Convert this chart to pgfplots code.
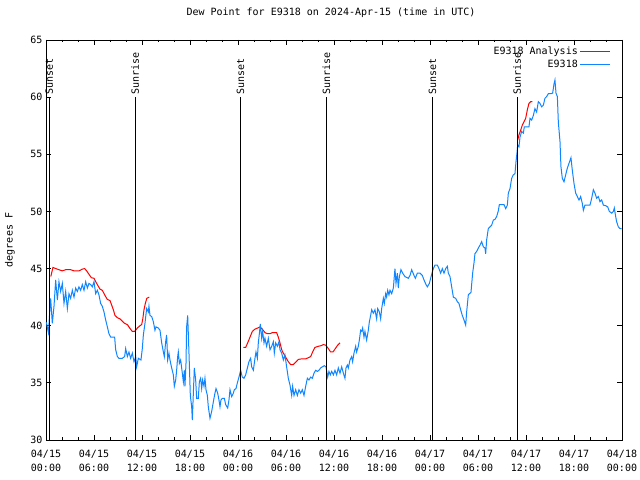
\documentclass[border=0pt]{standalone}
\usepackage{fontspec}
\setmainfont{DejaVu Sans Mono}
\usepackage{pgfplots}
\pgfplotsset{compat=1.18}
\definecolor{obsblue}{RGB}{16,133,255}
\definecolor{anared}{RGB}{255,0,0}
\newcommand{\gfont}{\fontsize{10bp}{14bp}\selectfont}

\begin{document}
\begin{tikzpicture}
\useasboundingbox (-46bp,-40bp) rectangle (594bp,440bp);
\begin{axis}[
  at={(0,0)}, anchor=south west,
  scale only axis, width=576bp, height=400bp,
  xmin=0, xmax=72, ymin=30, ymax=65,
  xtick={0,6,...,72}, minor xtick={0,2,...,72},
  ytick={30,35,...,65},
  xticklabels={04/15\\00:00,04/15\\06:00,04/15\\12:00,04/15\\18:00,
    04/16\\00:00,04/16\\06:00,04/16\\12:00,04/16\\18:00,
    04/17\\00:00,04/17\\06:00,04/17\\12:00,04/17\\18:00,04/18\\00:00},
  x tick label style={align=center, font=\gfont, yshift=-7bp},
  y tick label style={font=\gfont},
  /pgf/number format/assume math mode=true,
  tick align=inside,
  major tick length=5bp, minor tick length=2.5bp,
  tick style={black, line width=0.8bp},
  axis line style={black, line width=0.8bp},
  title={Dew Point for E9318 on 2024-Apr-15 (time in UTC)},
  title style={font=\gfont, at={(0.5,1)}, anchor=center, yshift=21bp, xshift=-3bp},
  ylabel={degrees F},
  ylabel style={font=\gfont, at={(axis description cs:-0.0625,0.5)}, anchor=center},
  legend style={draw=none, fill=none, at={(1,1)}, anchor=north east,
    xshift=-8bp, yshift=-3bp, font=\gfont, row sep=0bp,
    nodes={inner sep=2bp, text height=7bp, text depth=2bp}},
  legend cell align=right,
  legend plot pos=right,
  legend image code/.code={\draw[#1] (0bp,0bp) -- (30bp,0bp);},
]
% analysis, three stretches
\addplot[anared, line width=1bp] coordinates {
(0.6,44.3)(0.87,45.1)(1.21,45.0)(1.62,44.9)(2.04,44.8)(2.46,44.9)(3.08,44.9)
(3.5,44.8)(4.12,44.8)(4.54,44.95)(4.83,45.0)(5.08,44.8)(5.37,44.5)(5.67,44.2)
(6.0,44.15)(6.21,43.85)(6.5,43.5)(6.75,43.2)(7.04,43.1)(7.33,42.7)(7.67,42.3)
(8.0,42.2)(8.21,41.8)(8.42,41.4)(8.62,40.9)(8.92,40.7)(9.25,40.6)(9.54,40.4)
(9.83,40.2)(10.17,40.1)(10.46,39.8)(10.79,39.5)(11.08,39.5)(11.42,39.8)
(11.75,40.0)(11.96,40.1)(12.1,40.6)(12.25,41.4)(12.4,41.9)(12.6,42.4)(12.9,42.5)
};
\addlegendentry{E9318 Analysis}
\addplot[anared, line width=1bp, forget plot] coordinates {
(24.67,38.1)(24.96,38.1)(25.21,38.5)(25.5,39.0)(25.79,39.5)(26.12,39.7)
(26.46,39.8)(26.75,39.9)(27.04,39.7)(27.37,39.4)(27.67,39.3)(28.0,39.3)
(28.29,39.4)(28.54,39.4)(28.83,39.4)(29.04,39.0)(29.25,38.5)(29.46,37.9)
(29.67,37.6)(30.0,37.2)(30.29,36.85)(30.58,36.6)(30.92,36.6)(31.21,36.8)
(31.54,37.05)(31.96,37.1)(32.46,37.1)(32.79,37.2)(33.08,37.3)(33.33,37.7)
(33.62,38.1)(34.04,38.2)(34.37,38.25)(34.67,38.35)(34.96,38.3)(35.29,38.0)
(35.58,37.7)(35.87,37.7)(36.12,37.95)(36.46,38.3)(36.75,38.5)
};
\addplot[anared, line width=1bp, forget plot] coordinates {
(58.96,56.25)(59.12,56.7)(59.33,57.1)(59.54,57.55)(59.75,57.85)(59.96,58.15)
(60.17,58.9)(60.37,59.45)(60.58,59.6)(60.79,59.6)
};
% observations
\addplot[obsblue, line width=1bp] coordinates {
(0.05,40.3)(0.3,39.4)(0.58,42.4)(0.79,40.2)(1.0,41.7)(1.21,44.0)(1.42,42.25)
(1.62,43.85)(1.83,43.0)(2.04,43.7)(2.25,41.95)(2.46,43.0)(2.67,41.5)(2.87,42.8)
(3.08,42.4)(3.29,43.1)(3.5,42.5)(3.71,43.3)(3.92,43.0)(4.12,43.4)(4.33,43.1)
(4.54,43.6)(4.75,43.1)(4.96,43.85)(5.17,43.3)(5.37,43.7)(5.58,43.6)(5.79,43.4)
(6.0,43.85)(6.21,42.8)(6.42,43.1)(6.62,42.7)(6.83,41.95)(7.04,41.7)(7.25,41.2)
(7.46,40.5)(7.67,39.9)(7.87,39.3)(8.08,39.0)(8.29,39.0)(8.58,39.0)(8.71,37.9)
(8.92,37.3)(9.12,37.15)(9.54,37.15)(9.83,37.3)(9.96,38.0)(10.17,37.3)(10.37,37.7)
(10.58,37.15)(10.79,37.6)(11.0,36.85)(11.21,37.3)(11.33,36.4)(11.54,37.15)
(11.87,37.0)(12.04,38.0)(12.17,39.2)(12.37,40.2)(12.58,41.5)(12.79,41.2)
(12.87,41.7)(13.0,40.9)(13.21,40.8)(13.42,40.35)(13.62,39.6)(13.75,39.9)
(14.04,39.8)(14.25,39.6)(14.46,38.5)(14.67,37.7)(14.79,37.3)(14.96,38.6)
(15.08,39.2)(15.21,37.0)(15.37,37.6)(15.5,37.0)(15.71,36.3)(15.92,35.7)
(16.04,34.7)(16.21,35.25)(16.33,36.1)(16.46,37.3)(16.54,37.7)(16.67,36.7)
(16.83,37.0)(16.96,36.3)(17.17,35.1)(17.29,36.1)(17.37,34.7)(17.5,36.7)
(17.58,39.9)(17.71,40.9)(17.79,39.3)(17.92,36.6)(18.04,33.9)(18.21,32.9)
(18.29,31.75)(18.42,34.1)(18.54,36.3)(18.71,35.25)(18.83,33.65)(19.04,33.65)
(19.17,35.1)(19.33,35.4)(19.46,34.5)(19.58,35.25)(19.75,34.7)(19.87,35.4)
(20.0,34.4)(20.17,33.9)(20.29,32.9)(20.5,31.9)(20.71,32.5)(20.92,33.35)
(21.12,34.1)(21.25,34.5)(21.46,34.1)(21.62,33.5)(21.75,32.9)(21.87,33.5)
(22.04,33.65)(22.29,33.65)(22.46,33.1)(22.71,32.8)(22.87,33.5)(23.0,34.4)
(23.21,33.8)(23.42,34.1)(23.54,34.4)(23.75,34.5)(23.92,35.0)(24.12,35.5)
(24.33,36.1)(24.54,35.5)(24.75,35.4)(24.96,35.7)(25.17,36.3)(25.37,36.85)
(25.58,37.15)(25.71,36.4)(25.92,36.1)(26.12,37.15)(26.25,37.7)(26.42,37.15)
(26.54,38.5)(26.67,39.3)(26.79,40.15)(26.96,38.9)(27.08,39.5)(27.25,38.5)
(27.37,38.9)(27.58,38.2)(27.79,38.9)(28.0,37.9)(28.21,38.2)(28.42,38.6)
(28.54,37.6)(28.71,38.5)(28.92,38.2)(29.12,38.6)(29.25,37.9)(29.46,37.6)
(29.67,37.0)(29.87,37.45)(30.08,36.4)(30.29,35.4)(30.5,34.8)(30.71,33.9)
(30.83,34.7)(31.0,33.9)(31.21,34.4)(31.42,33.9)(31.62,34.4)(31.83,34.1)
(32.04,34.4)(32.25,33.9)(32.46,34.7)(32.67,35.4)(32.87,35.25)(33.08,35.5)
(33.29,35.4)(33.5,35.85)(33.71,36.1)(33.92,36.0)(34.12,36.1)(34.33,36.3)
(34.54,36.4)(34.79,36.5)(35.0,36.4)(35.21,35.5)(35.37,36.0)(35.54,35.7)
(35.71,36.0)(35.92,35.7)(36.12,36.1)(36.33,35.7)(36.54,36.3)(36.75,35.85)
(36.96,36.4)(37.17,35.85)(37.37,35.4)(37.5,36.3)(37.67,36.56)(37.79,36.3)
(38.0,37.0)(38.21,37.3)(38.33,36.85)(38.5,37.6)(38.71,38.2)(38.83,37.7)
(39.04,38.2)(39.17,38.75)(39.33,39.6)(39.46,39.5)(39.58,39.8)(39.75,39.0)
(39.87,39.5)(40.08,38.75)(40.29,39.6)(40.42,40.35)(40.58,40.9)(40.71,41.4)
(40.92,41.1)(41.12,41.4)(41.33,40.6)(41.46,41.5)(41.67,41.2)(41.83,40.6)
(41.96,41.5)(42.17,42.4)(42.29,41.95)(42.46,42.8)(42.58,42.5)(42.71,43.1)
(42.87,42.7)(43.0,43.1)(43.21,42.8)(43.42,43.3)(43.62,45.0)(43.75,43.7)
(43.92,44.6)(44.04,43.3)(44.17,44.3)(44.37,44.9)(44.58,44.6)(44.87,44.3)
(45.29,44.15)(45.5,44.4)(45.71,44.9)(46.0,44.4)(46.17,44.15)(46.42,44.6)
(46.75,44.6)(47.04,44.4)(47.25,44.0)(47.5,43.6)(47.67,43.4)(47.92,43.7)
(48.08,44.15)(48.25,44.6)(48.42,45.0)(48.62,45.3)(48.92,45.3)(49.12,45.0)
(49.33,44.6)(49.54,45.0)(49.75,44.6)(49.96,45.0)(50.17,45.2)(50.29,44.6)
(50.5,44.3)(50.71,43.4)(50.92,42.5)(51.21,42.4)(51.42,42.1)(51.62,41.95)
(51.83,41.4)(52.04,40.9)(52.25,40.5)(52.46,40.05)(52.58,41.2)(52.79,42.7)
(52.92,42.8)(53.12,42.9)(53.33,44.6)(53.5,45.5)(53.62,46.3)(53.83,46.5)
(54.04,46.8)(54.25,47.05)(54.46,47.35)(54.67,46.9)(54.87,46.8)(54.96,46.3)
(55.08,47.5)(55.29,48.5)(55.5,48.65)(55.71,48.8)(55.92,49.25)(56.12,49.3)
(56.33,49.55)(56.54,50.05)(56.67,50.6)(56.96,50.6)(57.25,50.6)(57.46,50.25)
(57.67,50.55)(57.79,51.6)(58.0,52.0)(58.21,52.9)(58.42,53.2)(58.62,53.3)
(58.75,54.35)(58.87,55.1)(58.96,55.8)(59.12,55.65)(59.25,56.5)(59.46,57.0)
(59.67,56.85)(59.79,57.4)(60.08,57.4)(60.37,57.4)(60.5,58.15)(60.71,58.0)
(60.92,58.4)(61.12,59.0)(61.33,58.7)(61.54,59.6)(61.75,59.45)(61.96,59.15)
(62.17,59.3)(62.37,59.9)(62.58,60.05)(62.79,60.3)(63.12,60.3)(63.33,60.35)
(63.5,61.15)(63.62,61.5)(63.75,60.35)(63.92,60.05)(64.04,57.85)(64.25,56.1)
(64.37,53.9)(64.54,52.9)(64.75,52.6)(64.96,53.2)(65.17,53.8)(65.37,54.2)
(65.62,54.7)(65.79,53.6)(66.0,52.45)(66.21,51.6)(66.42,51.3)(66.62,51.0)
(66.83,51.3)(67.04,50.7)(67.17,50.1)(67.37,50.55)(67.71,50.55)(68.0,50.55)
(68.21,51.15)(68.42,51.9)(68.62,51.6)(68.83,51.15)(69.04,51.3)(69.25,50.85)
(69.46,51.0)(69.67,50.55)(69.96,50.5)(70.21,50.4)(70.42,50.0)(70.71,49.85)
(70.92,50.0)(71.04,50.3)(71.21,49.55)(71.33,49.1)(71.54,48.65)(71.75,48.5)
(71.95,48.5)
};
\addlegendentry{E9318}
% sunset / sunrise markers
\addplot[black, line width=1bp, forget plot] coordinates {(0.4,30)(0.4,60)};
\addplot[black, line width=1bp, forget plot] coordinates {(11.15,30)(11.15,60)};
\addplot[black, line width=1bp, forget plot] coordinates {(24.3,30)(24.3,60)};
\addplot[black, line width=1bp, forget plot] coordinates {(35.05,30)(35.05,60)};
\addplot[black, line width=1bp, forget plot] coordinates {(48.3,30)(48.3,60)};
\addplot[black, line width=1bp, forget plot] coordinates {(58.9,30)(58.9,60)};
\foreach \t/\w in {0.4/Sunset,11.15/Sunrise,24.3/Sunset,35.05/Sunrise,48.3/Sunset,58.9/Sunrise}{
  \edef\temp{\noexpand\node[font=\noexpand\gfont, rotate=90, anchor=west, inner sep=1.5bp, xshift=1bp]
    at (axis cs:\t,60) {\w};}
  \temp
}
\end{axis}
\end{tikzpicture}
\end{document}
